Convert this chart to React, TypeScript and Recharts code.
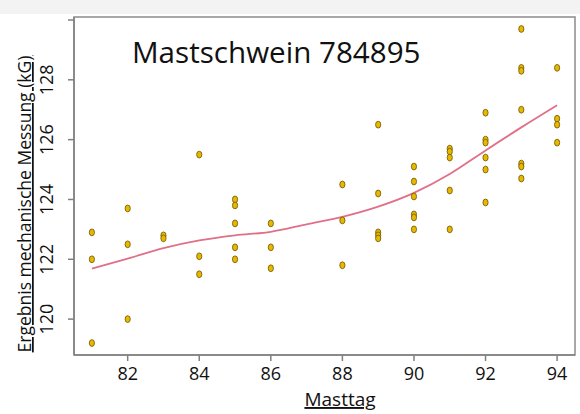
import React from "react";
import { ComposedChart, Scatter, Line, XAxis, YAxis, ReferenceArea } from "recharts";

const days = [81, 82, 83, 84, 85, 86, 88, 89, 90, 91, 92, 93, 94];
const measurements: number[][] = [
  [122.9, 122.0, 119.2],
  [123.7, 122.5, 120.0],
  [122.8, 122.7],
  [125.5, 122.1, 121.5],
  [124.0, 123.8, 123.2, 122.4, 122.0],
  [123.2, 122.4, 121.7],
  [124.5, 123.3, 121.8],
  [126.5, 124.2, 122.9, 122.8, 122.7],
  [125.1, 124.6, 124.1, 123.5, 123.4, 123.0],
  [125.7, 125.6, 125.4, 124.3, 123.0],
  [126.9, 126.0, 125.9, 125.4, 125.0, 123.9],
  [129.7, 128.4, 128.3, 127.0, 125.2, 125.1, 124.7],
  [128.4, 126.7, 126.5, 125.9],
];

// smoothed trend
const trendDays = [81, 82, 83, 84, 85, 86, 87, 88, 89, 90, 91, 92, 93, 94];
const trendValues = [121.69, 122.02, 122.37, 122.63, 122.8, 122.92, 123.17, 123.42, 123.76, 124.22, 124.85, 125.64, 126.41, 127.15];

const xTicks = [82, 84, 86, 88, 90, 92, 94];
const yTicks = [120, 122, 124, 126, 128, 130];
const yTickLabels = ["120", "122", "124", "126", "128", ""];

const points = days.flatMap((d, i) => measurements[i].map((v) => ({ x: d, y: v })));
const trend = trendDays.map((d, i) => ({ x: d, y: trendValues[i] }));

const FONT = "'Open Sans', sans-serif";

const Dot = (props: any) => (
  <ellipse cx={props.cx} cy={props.cy} rx={2.6} ry={3.4} fill="#E8B800" stroke="#6B5500" strokeWidth={0.8} />
);

const XTick = (props: any) => (
  <text x={props.x} y={props.y + 19} textAnchor="middle" fontFamily={FONT} fontSize={18} fill="#111">
    {props.payload.value}
  </text>
);

const YTick = (props: any) => {
  const cx = props.x - 15;
  const label = yTickLabels[yTicks.indexOf(props.payload.value)];
  return (
    <text x={cx} y={props.y} transform={`rotate(-90 ${cx} ${props.y})`} textAnchor="middle" fontFamily={FONT} fontSize={18} fill="#111">
      {label}
    </text>
  );
};

export default function App() {
  return (
    <div style={{ position: "absolute", left: 0, top: 0, width: 580, height: 414, background: "#fff" }}>
      <div style={{ position: "absolute", left: 0, top: 0, width: 580, height: 14, background: "#f3f3f3" }} />
      <ComposedChart width={580} height={414} margin={{ top: 17, right: 5, left: 0, bottom: 0 }}>
        <XAxis
          type="number"
          dataKey="x"
          domain={[80.5, 94.5]}
          ticks={xTicks}
          allowDataOverflow
          height={59}
          tickSize={6}
          tickMargin={0}
          stroke="#808080"
          strokeWidth={1.5}
          tick={<XTick />}
        />
        <YAxis
          type="number"
          dataKey="y"
          domain={[118.8, 130.1]}
          ticks={yTicks}
          allowDataOverflow
          width={74}
          tickSize={6}
          tickMargin={0}
          stroke="#808080"
          strokeWidth={1.5}
          tick={<YTick />}
        />
        <ReferenceArea x1={80.5} x2={94.5} y1={118.8} y2={130.1} fill="none" stroke="#8c8c8c" strokeWidth={1.5} />
        <Line data={trend} dataKey="y" type="monotone" stroke="#E0708A" strokeWidth={1.8} dot={false} isAnimationActive={false} />
        <Scatter data={points} shape={<Dot />} isAnimationActive={false} />
      </ComposedChart>
      <svg width={580} height={414} style={{ position: "absolute", left: 0, top: 0, pointerEvents: "none" }}>
        <text x={132} y={63} fontFamily={FONT} fontSize={29.6} fill="#111">Mastschwein 784895</text>
        <text x={340} y={406} textAnchor="middle" fontFamily={FONT} fontSize={19} fill="#111" style={{ textDecoration: "underline" }}>
          Masttag
        </text>
        <text x={31} y={204} transform="rotate(-90 31 204)" textAnchor="middle" fontFamily={FONT} fontSize={17.5} fill="#111" style={{ textDecoration: "underline" }}>
          Ergebnis mechanische Messung (kG)
        </text>
      </svg>
    </div>
  );
}
